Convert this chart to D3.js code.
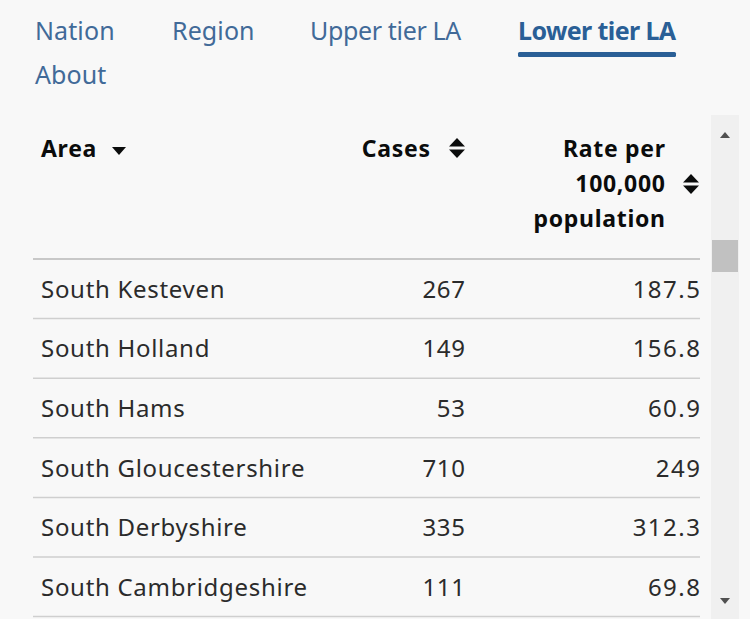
<!DOCTYPE html>
<html><head><meta charset="utf-8">
<script src="https://cdn.jsdelivr.net/npm/d3@7/dist/d3.min.js"></script>
<style>
html,body{margin:0;padding:0;background:#f8f8f8;}
svg{display:block;}
text{font-family:"Noto Sans",sans-serif;}
</style></head>
<body><svg id="c" width="750" height="619"></svg>
<script>
const navItems = ["Nation","Region","Upper tier LA","Lower tier LA","About"];
const activeNav = "Lower tier LA";
const headers = ["Area","Cases","Rate per 100,000 population"];
const areas = ["South Kesteven","South Holland","South Hams","South Gloucestershire","South Derbyshire","South Cambridgeshire"];
const cases = [267,149,53,710,335,111];
const rates = [187.5,156.8,60.9,249,312.3,69.8];

const svg = d3.select("#c");
const W = 750, H = 619;
svg.append("rect").attr("width",W).attr("height",H).attr("fill","#f8f8f8");

// Nav
const navPos = [[35,40],[172,40],[310,40],[518,40],[35,84]];
const navSpacing = [0.1,0.1,-0.35,-0.6,0.1];
const navG = svg.append("g");
navItems.forEach((n,i)=>{
  const active = n===activeNav;
  navG.append("text").attr("x",navPos[i][0]).attr("y",navPos[i][1])
    .attr("font-size",25).attr("fill", active?"#2a5f96":"#416a98")
    .attr("font-weight", active?700:400).attr("letter-spacing", navSpacing[i]).text(n);
  if(active){
    navG.append("rect").attr("x",518).attr("y",52).attr("width",158).attr("height",5).attr("rx",1.5).attr("fill","#2a5f96");
  }
});

// Table
const x0 = 33, x1 = 700;
const y = d3.scaleBand().domain(d3.range(areas.length)).range([259, 259+59.6*areas.length]);
const tg = svg.append("g");
const col = "#0b0c0c";
const hfs = 23, hls = 0.7;

// Header
tg.append("text").attr("x",41).attr("y",157).attr("font-size",hfs).attr("letter-spacing",hls).attr("font-weight",700).attr("fill",col).text(headers[0]);
tg.append("path").attr("d","M112,147 L126,147 L119,155 Z").attr("fill",col);
tg.append("text").attr("x",430+hls).attr("y",157).attr("text-anchor","end").attr("font-size",hfs).attr("letter-spacing",hls).attr("font-weight",700).attr("fill",col).text(headers[1]);
const sortIcon = (cx,cy)=>{
  tg.append("path").attr("d",`M${cx-8},${cy-1.5} L${cx+8},${cy-1.5} L${cx},${cy-10} Z`).attr("fill",col);
  tg.append("path").attr("d",`M${cx-8},${cy+1.5} L${cx+8},${cy+1.5} L${cx},${cy+10} Z`).attr("fill",col);
};
sortIcon(457,148);
const rateLines = ["Rate per","100,000","population"];
rateLines.forEach((l,i)=>{
  tg.append("text").attr("x",665+hls).attr("y",157+i*35).attr("text-anchor","end").attr("font-size",hfs).attr("letter-spacing",hls).attr("font-weight",700).attr("fill",col).text(l);
});
sortIcon(691,184);

// header border
tg.append("line").attr("x1",x0).attr("x2",x1).attr("y1",259).attr("y2",259).attr("stroke","#c8c8c8").attr("stroke-width",2);

const rfs = 24, rls = 0.7, nls = 1.5;
const rows = tg.selectAll("g.row").data(areas.map((a,i)=>({a,c:cases[i],r:rates[i],i}))).join("g").attr("class","row");
rows.append("text").attr("x",41).attr("y",d=>y(d.i)+y.bandwidth()/2+9).attr("font-size",rfs).attr("letter-spacing",rls).attr("fill","#2b2b2b").text(d=>d.a);
rows.append("text").attr("x",465+rls).attr("y",d=>y(d.i)+y.bandwidth()/2+9).attr("text-anchor","end").attr("font-size",rfs).attr("letter-spacing",rls).attr("fill","#2b2b2b").text(d=>String(d.c));
rows.append("text").attr("x",700+nls).attr("y",d=>y(d.i)+y.bandwidth()/2+9).attr("text-anchor","end").attr("font-size",rfs).attr("letter-spacing",nls).attr("fill","#2b2b2b").text(d=>String(d.r));
rows.append("line").attr("x1",x0).attr("x2",x1).attr("y1",d=>y(d.i)+y.bandwidth()).attr("y2",d=>y(d.i)+y.bandwidth()).attr("stroke","#cfcfcf").attr("stroke-width",1.5);

// Scrollbar
svg.append("rect").attr("x",711).attr("y",115).attr("width",28).attr("height",H-115).attr("fill","#f0f0f0");
svg.append("path").attr("d","M720,138 L730,138 L725,132 Z").attr("fill","#505050");
svg.append("path").attr("d","M720,598 L730,598 L725,604 Z").attr("fill","#505050");
svg.append("rect").attr("x",712).attr("y",240).attr("width",26).attr("height",32).attr("fill","#c1c1c1");
</script></body></html>
